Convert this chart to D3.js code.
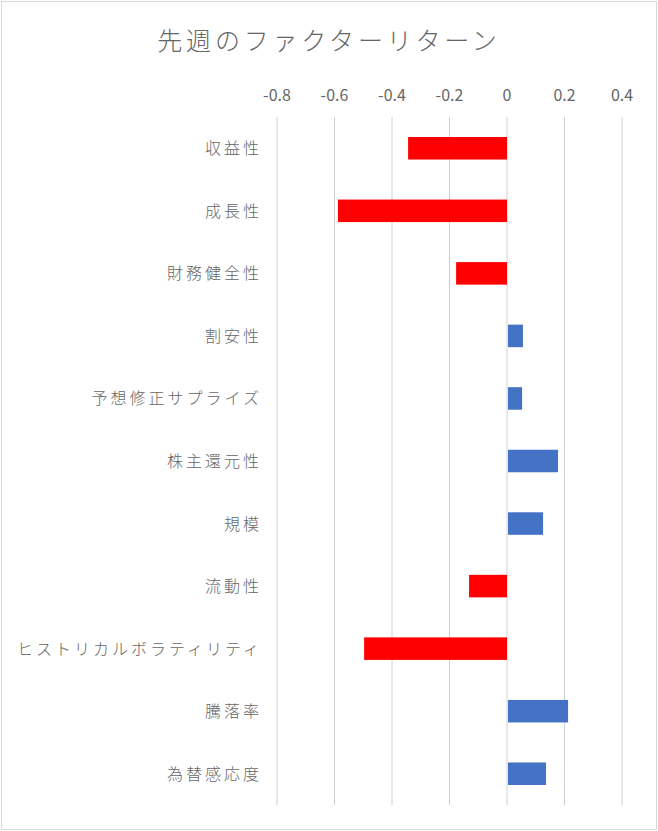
<!DOCTYPE html>
<html><head><meta charset="utf-8">
<script src="https://cdn.jsdelivr.net/npm/d3@7"></script>
<style>body{margin:0;background:#fff}text{font-family:"Noto Sans CJK JP","Noto Sans",sans-serif}</style>
</head><body>
<script>
// factor names and last week's returns
var factors = ['収益性','成長性','財務健全性','割安性','予想修正サプライズ','株主還元性','規模','流動性','ヒストリカルボラティリティ','騰落率','為替感応度'];
var returns = [-0.344,-0.588,-0.177,0.052,0.049,0.174,0.122,-0.132,-0.497,0.209,0.132];
var ticks = [-0.8,-0.6,-0.4,-0.2,0,0.2,0.4];

var W = 658, H = 831;
var svg = d3.select('body').append('svg').attr('width', W).attr('height', H);

svg.append('rect').attr('x', 1.5).attr('y', 1.5).attr('width', W - 3).attr('height', H - 3)
    .attr('fill', '#fff').attr('stroke', '#d9d9d9');

svg.append('text').attr('x', 329).attr('y', 50).attr('text-anchor', 'middle')
    .attr('font-size', 25).attr('font-weight', 300).attr('letter-spacing', 3.8)
    .attr('fill', '#666').text('先週のファクターリターン');

var x = d3.scaleLinear().domain([-0.8, 0.4]).range([277, 622]);
var y = d3.scaleBand().domain(factors).range([117, 805]).paddingInner(0.64).paddingOuter(0.32);

svg.selectAll('.grid').data(ticks).enter().append('line')
    .attr('x1', function(d){ return x(d); }).attr('x2', function(d){ return x(d); })
    .attr('y1', 117).attr('y2', 805).attr('stroke', '#d0d0d0');

svg.selectAll('.tick').data(ticks).enter().append('text')
    .attr('x', function(d){ return x(d); }).attr('y', 101).attr('text-anchor', 'middle')
    .attr('font-size', 16).attr('fill', '#666')
    .text(function(d){ return d === 0 ? '0' : d3.format('.1f')(d).replace('−', '-'); });

svg.selectAll('.bar').data(factors).enter().append('rect')
    .attr('x', function(d, i){ return returns[i] < 0 ? x(returns[i]) : x(0) + 1; })
    .attr('y', function(d){ return y(d); })
    .attr('width', function(d, i){ return Math.abs(x(returns[i]) - x(0)); })
    .attr('height', y.bandwidth())
    .attr('fill', function(d, i){ return returns[i] < 0 ? '#ff0000' : '#4472c4'; });

svg.selectAll('.cat').data(factors).enter().append('text')
    .attr('x', 262).attr('y', function(d){ return y(d) + y.bandwidth() / 2 + 6; })
    .attr('text-anchor', 'end').attr('font-size', 16).attr('font-weight', 300)
    .attr('letter-spacing', 3).attr('fill', '#666')
    .text(function(d){ return d; });
</script>
</body></html>
